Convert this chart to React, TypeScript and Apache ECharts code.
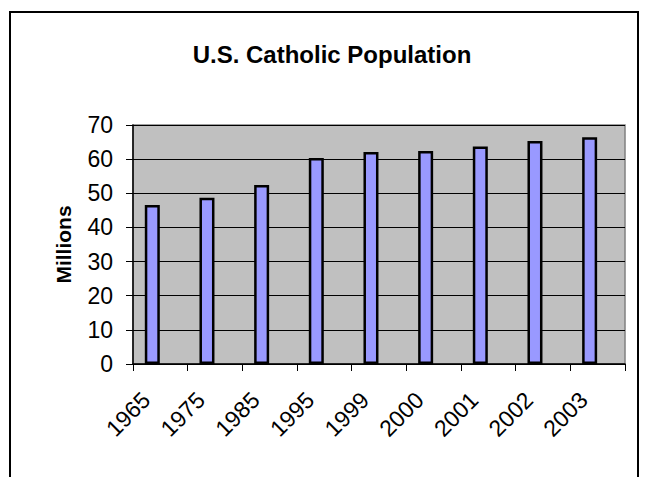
import React, { useEffect, useRef } from "react";
import * as echarts from "echarts";

const categories = ["1965", "1975", "1985", "1995", "1999", "2000", "2001", "2002", "2003"];
const population = [46.6, 48.7, 52.4, 60.3, 62.1, 62.4, 63.7, 65.3, 66.4];
const yTicks = { min: 0, max: 70, interval: 10 };
const titleText = "U.S. Catholic Population";
const yName = "Millions";

export default function App() {
  const ref = useRef<HTMLDivElement>(null);
  useEffect(() => {
    if (!ref.current) return;
    const chart = echarts.init(ref.current, null, { renderer: "svg" });
    const font = "Arial, 'Liberation Sans', sans-serif";
    chart.setOption({
      animation: false,
      backgroundColor: "#ffffff",
      graphic: [
        {
          type: "rect",
          shape: { x: 10, y: 12, width: 628, height: 480 },
          style: { fill: "none", stroke: "#000", lineWidth: 2 },
          silent: true,
        },
        {
          type: "text",
          x: 332,
          y: 54,
          style: {
            text: titleText,
            font: `bold 24px ${font}`,
            fill: "#000",
            textAlign: "center",
            textVerticalAlign: "middle",
          },
        },
      ],
      grid: {
        left: 133,
        top: 125,
        right: 21,
        bottom: 113,
        show: true,
        backgroundColor: "#c0c0c0",
        borderColor: "#808080",
        borderWidth: 1.5,
      },
      xAxis: {
        type: "category",
        data: categories,
        boundaryGap: true,
        axisLine: { show: true, lineStyle: { color: "#000", width: 1.5 } },
        axisTick: { show: true, length: 7, lineStyle: { color: "#000", width: 1 } },
        axisLabel: {
          rotate: 45,
          margin: 18,
          fontFamily: font,
          fontSize: 23,
          color: "#000",
          padding: [0, 20, 0, 0],
        },
      },
      yAxis: {
        type: "value",
        min: yTicks.min,
        max: yTicks.max,
        interval: yTicks.interval,
        name: yName,
        nameLocation: "middle",
        nameGap: 59,
        nameTextStyle: { fontFamily: font, fontWeight: "bold", fontSize: 21, color: "#000" },
        axisLine: { show: true, lineStyle: { color: "#000", width: 1.5 } },
        axisTick: { show: true, length: 7, lineStyle: { color: "#000", width: 1 } },
        axisLabel: { margin: 20, fontFamily: font, fontSize: 23, color: "#000" },
        splitLine: { show: true, lineStyle: { color: "#000", width: 1 } },
      },
      series: [
        {
          type: "bar",
          data: population,
          barWidth: 15,
          barGap: "7%",
          itemStyle: { color: "#9999ff", borderColor: "#000", borderWidth: 2.5 },
        },
        {
          type: "bar",
          data: categories.map(() => null),
          barWidth: 15,
          silent: true,
        },
      ],
    });
    return () => chart.dispose();
  }, []);
  return (
    <div
      ref={ref}
      style={{ position: "absolute", left: 0, top: 0, width: 646, height: 477 }}
    />
  );
}
